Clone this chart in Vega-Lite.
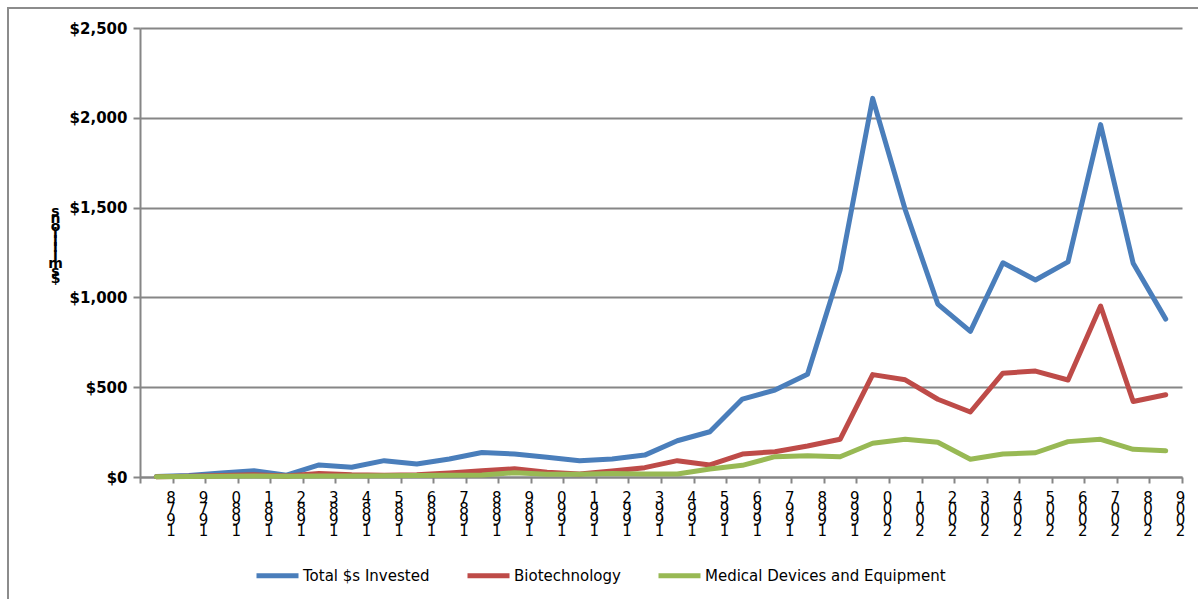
{
  "$schema": "https://vega.github.io/schema/vega-lite/v6.json",
  "autosize": {"type": "none"},
  "padding": {"left": 8, "top": 8, "right": 0, "bottom": 0},
  "width": 1192,
  "height": 593,
  "background": "white",
  "config": {
    "view": {"stroke": "#8c8c8c", "strokeWidth": 2},
    "font": "DejaVu Sans"
  },
  "data": {
    "values": [
      {"year": 1978, "series": "Total $s Invested", "value": 3},
      {"year": 1979, "series": "Total $s Invested", "value": 8},
      {"year": 1980, "series": "Total $s Invested", "value": 22},
      {"year": 1981, "series": "Total $s Invested", "value": 35},
      {"year": 1982, "series": "Total $s Invested", "value": 10},
      {"year": 1983, "series": "Total $s Invested", "value": 67},
      {"year": 1984, "series": "Total $s Invested", "value": 54},
      {"year": 1985, "series": "Total $s Invested", "value": 91},
      {"year": 1986, "series": "Total $s Invested", "value": 72},
      {"year": 1987, "series": "Total $s Invested", "value": 100},
      {"year": 1988, "series": "Total $s Invested", "value": 136},
      {"year": 1989, "series": "Total $s Invested", "value": 128},
      {"year": 1990, "series": "Total $s Invested", "value": 110},
      {"year": 1991, "series": "Total $s Invested", "value": 91},
      {"year": 1992, "series": "Total $s Invested", "value": 100},
      {"year": 1993, "series": "Total $s Invested", "value": 122},
      {"year": 1994, "series": "Total $s Invested", "value": 202},
      {"year": 1995, "series": "Total $s Invested", "value": 252},
      {"year": 1996, "series": "Total $s Invested", "value": 434},
      {"year": 1997, "series": "Total $s Invested", "value": 484},
      {"year": 1998, "series": "Total $s Invested", "value": 572},
      {"year": 1999, "series": "Total $s Invested", "value": 1153},
      {"year": 2000, "series": "Total $s Invested", "value": 2108},
      {"year": 2001, "series": "Total $s Invested", "value": 1488},
      {"year": 2002, "series": "Total $s Invested", "value": 963},
      {"year": 2003, "series": "Total $s Invested", "value": 811},
      {"year": 2004, "series": "Total $s Invested", "value": 1193},
      {"year": 2005, "series": "Total $s Invested", "value": 1097},
      {"year": 2006, "series": "Total $s Invested", "value": 1198},
      {"year": 2007, "series": "Total $s Invested", "value": 1962},
      {"year": 2008, "series": "Total $s Invested", "value": 1190},
      {"year": 2009, "series": "Total $s Invested", "value": 879},
      {"year": 1978, "series": "Biotechnology", "value": 2},
      {"year": 1979, "series": "Biotechnology", "value": 4},
      {"year": 1980, "series": "Biotechnology", "value": 8},
      {"year": 1981, "series": "Biotechnology", "value": 12},
      {"year": 1982, "series": "Biotechnology", "value": 6},
      {"year": 1983, "series": "Biotechnology", "value": 20},
      {"year": 1984, "series": "Biotechnology", "value": 12},
      {"year": 1985, "series": "Biotechnology", "value": 10},
      {"year": 1986, "series": "Biotechnology", "value": 12},
      {"year": 1987, "series": "Biotechnology", "value": 22},
      {"year": 1988, "series": "Biotechnology", "value": 35},
      {"year": 1989, "series": "Biotechnology", "value": 46},
      {"year": 1990, "series": "Biotechnology", "value": 26},
      {"year": 1991, "series": "Biotechnology", "value": 17},
      {"year": 1992, "series": "Biotechnology", "value": 33},
      {"year": 1993, "series": "Biotechnology", "value": 52},
      {"year": 1994, "series": "Biotechnology", "value": 91},
      {"year": 1995, "series": "Biotechnology", "value": 67},
      {"year": 1996, "series": "Biotechnology", "value": 128},
      {"year": 1997, "series": "Biotechnology", "value": 141},
      {"year": 1998, "series": "Biotechnology", "value": 173},
      {"year": 1999, "series": "Biotechnology", "value": 210},
      {"year": 2000, "series": "Biotechnology", "value": 570},
      {"year": 2001, "series": "Biotechnology", "value": 541},
      {"year": 2002, "series": "Biotechnology", "value": 433},
      {"year": 2003, "series": "Biotechnology", "value": 362},
      {"year": 2004, "series": "Biotechnology", "value": 578},
      {"year": 2005, "series": "Biotechnology", "value": 590},
      {"year": 2006, "series": "Biotechnology", "value": 540},
      {"year": 2007, "series": "Biotechnology", "value": 952},
      {"year": 2008, "series": "Biotechnology", "value": 420},
      {"year": 2009, "series": "Biotechnology", "value": 458},
      {"year": 1978, "series": "Medical Devices and Equipment", "value": 2},
      {"year": 1979, "series": "Medical Devices and Equipment", "value": 3},
      {"year": 1980, "series": "Medical Devices and Equipment", "value": 4},
      {"year": 1981, "series": "Medical Devices and Equipment", "value": 5},
      {"year": 1982, "series": "Medical Devices and Equipment", "value": 4},
      {"year": 1983, "series": "Medical Devices and Equipment", "value": 6},
      {"year": 1984, "series": "Medical Devices and Equipment", "value": 5},
      {"year": 1985, "series": "Medical Devices and Equipment", "value": 7},
      {"year": 1986, "series": "Medical Devices and Equipment", "value": 8},
      {"year": 1987, "series": "Medical Devices and Equipment", "value": 10},
      {"year": 1988, "series": "Medical Devices and Equipment", "value": 11},
      {"year": 1989, "series": "Medical Devices and Equipment", "value": 24},
      {"year": 1990, "series": "Medical Devices and Equipment", "value": 15},
      {"year": 1991, "series": "Medical Devices and Equipment", "value": 16},
      {"year": 1992, "series": "Medical Devices and Equipment", "value": 20},
      {"year": 1993, "series": "Medical Devices and Equipment", "value": 17},
      {"year": 1994, "series": "Medical Devices and Equipment", "value": 17},
      {"year": 1995, "series": "Medical Devices and Equipment", "value": 45},
      {"year": 1996, "series": "Medical Devices and Equipment", "value": 65},
      {"year": 1997, "series": "Medical Devices and Equipment", "value": 113},
      {"year": 1998, "series": "Medical Devices and Equipment", "value": 119},
      {"year": 1999, "series": "Medical Devices and Equipment", "value": 113},
      {"year": 2000, "series": "Medical Devices and Equipment", "value": 188},
      {"year": 2001, "series": "Medical Devices and Equipment", "value": 210},
      {"year": 2002, "series": "Medical Devices and Equipment", "value": 193},
      {"year": 2003, "series": "Medical Devices and Equipment", "value": 99},
      {"year": 2004, "series": "Medical Devices and Equipment", "value": 128},
      {"year": 2005, "series": "Medical Devices and Equipment", "value": 135},
      {"year": 2006, "series": "Medical Devices and Equipment", "value": 197},
      {"year": 2007, "series": "Medical Devices and Equipment", "value": 210},
      {"year": 2008, "series": "Medical Devices and Equipment", "value": 154},
      {"year": 2009, "series": "Medical Devices and Equipment", "value": 146}
    ]
  },
  "mark": {"type": "line", "strokeWidth": 5, "strokeJoin": "round", "strokeCap": "round"},
  "encoding": {
    "x": {
      "field": "year",
      "type": "quantitative",
      "scale": {"domain": [1977.5, 2009.5], "range": [132, 1174], "nice": false, "zero": false},
      "axis": {
        "title": null,
        "offset": -124,
        "grid": false,
        "values": [1977.5, 1978.5, 1979.5, 1980.5, 1981.5, 1982.5, 1983.5, 1984.5, 1985.5, 1986.5, 1987.5, 1988.5, 1989.5, 1990.5, 1991.5, 1992.5, 1993.5, 1994.5, 1995.5, 1996.5, 1997.5, 1998.5, 1999.5, 2000.5, 2001.5, 2002.5, 2003.5, 2004.5, 2005.5, 2006.5, 2007.5, 2008.5, 2009.5],
        "labelExpr": "datum.value < 1978 ? '' : [substring(toString(floor(datum.value)), 3, 4), substring(toString(floor(datum.value)), 2, 3), substring(toString(floor(datum.value)), 1, 2), substring(toString(floor(datum.value)), 0, 1)]",
        "labelFont": "DejaVu Sans",
        "labelFontSize": 15,
        "labelLineHeight": 11,
        "labelColor": "#000000",
        "labelAngle": 0,
        "labelAlign": "center",
        "labelBaseline": "top",
        "labelOffset": -2,
        "labelPadding": 7,
        "labelOverlap": false,
        "labelFlush": false,
        "domainColor": "#868686",
        "domainWidth": 2,
        "tickColor": "#868686",
        "tickWidth": 2,
        "tickSize": 6
      }
    },
    "y": {
      "field": "value",
      "type": "quantitative",
      "scale": {"domain": [0, 2500], "range": [469, 20], "nice": false},
      "axis": {
        "offset": -132,
        "values": [0, 500, 1000, 1500, 2000, 2500],
        "format": "$,.0f",
        "labelFont": "DejaVu Sans",
        "labelFontSize": 15,
        "labelFontWeight": "bold",
        "labelColor": "#000000",
        "labelPadding": 6,
        "tickColor": "#868686",
        "tickWidth": 2,
        "tickSize": 7,
        "domainColor": "#868686",
        "domainWidth": 2,
        "gridColor": "#868686",
        "gridWidth": 2,
        "title": ["s", "n", "o", "i", "l", "l", "i", "m", " ", "s", "$"],
        "titleFont": "DejaVu Sans",
        "titleFontSize": 14,
        "titleFontWeight": "bold",
        "titleColor": "#000000",
        "titleAngle": 0,
        "titleLineHeight": 7.5,
        "titleAlign": "center",
        "titleBaseline": "top",
        "titleX": -85,
        "titleY": 196
      }
    },
    "color": {
      "field": "series",
      "type": "nominal",
      "sort": ["Total $s Invested", "Biotechnology", "Medical Devices and Equipment"],
      "scale": {
        "domain": ["Total $s Invested", "Biotechnology", "Medical Devices and Equipment"],
        "range": ["#4A7EBB", "#BE4B48", "#98B954"]
      },
      "legend": {
        "title": null,
        "orient": "none",
        "direction": "horizontal",
        "legendX": 246,
        "legendY": 544,
        "symbolType": "stroke",
        "symbolSize": 1764,
        "symbolStrokeWidth": 5,
        "labelFont": "DejaVu Sans",
        "labelFontSize": 15,
        "labelColor": "#000000",
        "labelOffset": 2,
        "columnPadding": 27,
        "labelLimit": 400
      }
    },
    "order": {"field": "year", "type": "quantitative"}
  }
}
